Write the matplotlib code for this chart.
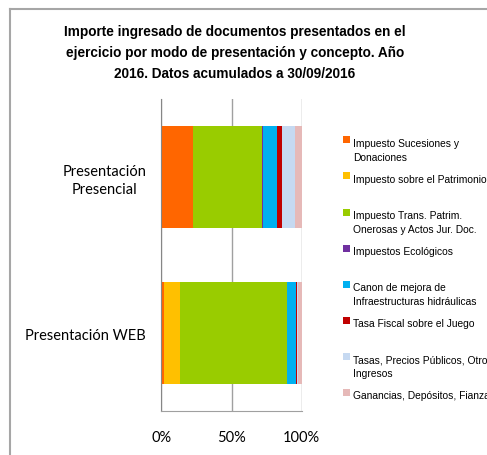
import matplotlib
matplotlib.use("Agg")
import matplotlib.pyplot as plt
from matplotlib.patches import Rectangle
from matplotlib.lines import Line2D
from matplotlib import font_manager

categories = ["Presentación\nPresencial", "Presentación WEB"]
series_names = [
    "Impuesto Sucesiones y\nDonaciones",
    "Impuesto sobre el Patrimonio",
    "Impuesto Trans. Patrim.\nOnerosas y Actos Jur. Doc.",
    "Impuestos Ecológicos",
    "Canon de mejora de\nInfraestructuras hidráulicas",
    "Tasa Fiscal sobre el Juego",
    "Tasas, Precios Públicos, Otros\nIngresos",
    "Ganancias, Depósitos, Fianzas",
]
presencial = [22.8, 0.0, 49.1, 0.4, 9.9, 3.8, 9.0, 5.0]
web = [1.9, 11.3, 76.2, 0.1, 6.1, 1.1, 0.6, 2.7]
colors = ["#FF6600", "#FFC000", "#99CC00", "#7030A0", "#00B0F0", "#C00000", "#C6D9F1", "#E6B9B8"]
xticks = [0, 50, 100]
xticklabels = ["0%", "50%", "100%"]

names = {f.name for f in font_manager.fontManager.ttflist}
sans = "Liberation Sans" if "Liberation Sans" in names else "DejaVu Sans"
body = "Lato" if "Lato" in names else "DejaVu Sans"

W, H = 487, 456
fig = plt.figure(figsize=(W / 100, H / 100), dpi=100)

# frame
fig.add_artist(Line2D([10 / W, 10 / W], [0, 1 - 10 / H], color="#A6A6A6", lw=1.5))
fig.add_artist(Line2D([10 / W, 1], [1 - 10 / H, 1 - 10 / H], color="#A6A6A6", lw=1.5))

ax = fig.add_axes([161.3 / W, 1 - 412 / H, (301.7 - 161.3) / W, (412 - 100) / H])
data = [presencial, web]
ypos = [0, 1]
for j, name in enumerate(series_names):
    vals = [d[j] for d in data]
    lefts = [sum(d[:j]) for d in data]
    ax.barh(ypos, vals, left=lefts, height=0.65, color=colors[j], edgecolor="none")

ax.set_xlim(0, 100)
ax.set_ylim(1.5, -0.5)
ax.set_xticks(xticks)
ax.set_xticklabels(xticklabels, fontfamily=body, fontsize=10.5)
ax.set_yticks(ypos)
ax.set_yticklabels(categories, fontfamily=body, fontsize=10.5, ha="right",
                   multialignment="center", linespacing=1.35)
ax.tick_params(axis="y", length=0, pad=11)
ax.tick_params(axis="x", length=0, pad=14)
ax.grid(axis="x", color="#A0A0A0", lw=1)
ax.set_axisbelow(True)
for s in ["top", "right"]:
    ax.spines[s].set_visible(False)
ax.spines["left"].set_color("#868686")
ax.spines["bottom"].set_color("#A0A0A0")

title_lines = [
    "Importe ingresado de documentos presentados en el",
    "ejercicio por modo de presentación y concepto. Año",
    "2016. Datos acumulados a 30/09/2016",
]
fig.text(235 / W, 1 - 53 / H, "\n".join(title_lines),
         ha="center", va="center", fontfamily=sans, fontweight="bold",
         fontsize=9.8, linespacing=1.6)

# legend (equal spacing between entries)
for j, name in enumerate(series_names):
    top = 137.3 + 36.1 * j
    fig.add_artist(Rectangle((342.5 / W, 1 - (top + 7) / H), 7 / W, 7 / H, color=colors[j], lw=0))
    for k, line in enumerate(name.split("\n")):
        fig.text(353 / W, 1 - (top + 9.5 + 14 * k) / H, line, ha="left", va="baseline",
                 fontfamily=sans, fontsize=7.4)

fig.savefig("out.png", dpi=100)
